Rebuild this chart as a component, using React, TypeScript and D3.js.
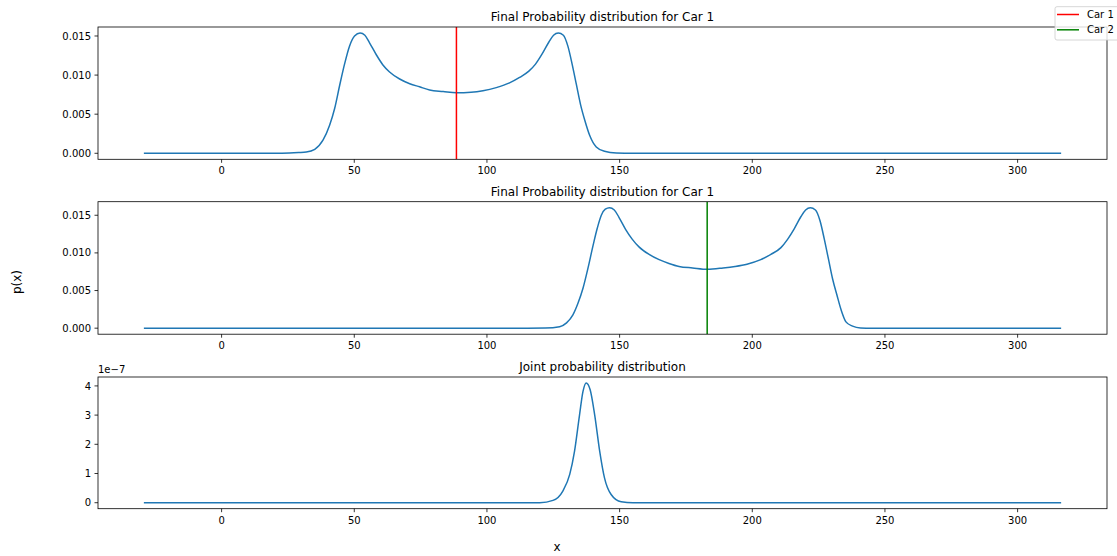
import React from "react";
import * as d3 from "d3";

// ---- data ----
const car1X = [-29.3, 20, 25.6, 29, 31.9, 35.1, 38.2, 40.7, 42.6, 44.5, 46.4, 48.2, 50.1, 52.2, 54.0, 55.8, 58.3, 60.8, 63.3, 67.1, 70.9, 74.6, 78.4, 83.5, 88.5, 94, 98.5, 103.5, 108.5, 112.3, 115.8, 118.3, 120.8, 123.3, 125.1, 126.9, 128.8, 130.5, 132.1, 133.7, 135.3, 136.9, 138.7, 141.2, 144.3, 148.8, 155, 316.4];
const car1Y = [0, 0, 0.00004, 0.0001, 0.00017, 0.00051, 0.00167, 0.00359, 0.00573, 0.0087, 0.0115, 0.0137, 0.015, 0.01538, 0.0151, 0.0141, 0.0126, 0.0113, 0.0104, 0.0095, 0.0089, 0.0085, 0.0081, 0.0079, 0.00773, 0.0078, 0.008, 0.0084, 0.009, 0.0097, 0.0105, 0.0114, 0.0127, 0.0142, 0.0151, 0.01538, 0.0151, 0.0137, 0.0114, 0.0088, 0.0062, 0.0042, 0.00231, 0.00081, 0.00026, 0.00003, 0, 0];

const car2X = [-29.3, 115, 122, 127.4, 130, 132.4, 134.3, 136.2, 138.1, 140.0, 141.6, 143.1, 144.6, 146.2, 148.0, 149.8, 152.3, 154.8, 157.3, 161.1, 164.9, 168.6, 172.4, 177.5, 183.1, 189, 193.5, 198, 203.2, 207, 210.8, 213.3, 215.8, 218.3, 220.1, 221.9, 223.8, 225.5, 227.1, 228.7, 230.3, 231.9, 233.5, 235.3, 237.8, 240.8, 245, 252, 316.4];
const car2Y = [0, 0, 0.00002, 0.0002, 0.0007, 0.00176, 0.0033, 0.0053, 0.008, 0.011, 0.0133, 0.015, 0.0158, 0.016, 0.0157, 0.0147, 0.0131, 0.0118, 0.0108, 0.0098, 0.0091, 0.0086, 0.0082, 0.008, 0.00782, 0.008, 0.0082, 0.0085, 0.0091, 0.0098, 0.0107, 0.0118, 0.0132, 0.0148, 0.0157, 0.016, 0.0157, 0.0143, 0.0119, 0.0092, 0.0065, 0.0044, 0.0024, 0.00084, 0.00027, 0.00003, 0, 0, 0];

const jointX = [-29.3, 115, 119.9, 124.9, 128.6, 131.2, 133.0, 134.9, 136.2, 137.4, 138.9, 140.6, 142.5, 144.3, 146.8, 150.6, 155, 316.4];
const jointY = [0, 0, 0.002e-7, 0.08e-7, 0.4e-7, 0.97e-7, 1.76e-7, 3.01e-7, 3.81e-7, 4.1e-7, 3.87e-7, 3.01e-7, 1.76e-7, 0.85e-7, 0.28e-7, 0.03e-7, 0, 0];

const car1Pos = 88.5;
const car2Pos = 183.0;

const xTicks = [0, 50, 100, 150, 200, 250, 300];
const probTicks = [0, 0.005, 0.01, 0.015];
const jointTicks = [0, 1e-7, 2e-7, 3e-7, 4e-7];

const titles = ["Final Probability distribution for Car 1", "Final Probability distribution for Car 1", "Joint probability distribution"];
const legendLabels = ["Car 1", "Car 2"];

const W = 1117;
const H = 556;
const FONT = "DejaVu Sans, sans-serif";
const BLUE = "#1f77b4";

type Panel = {
  xs: number[];
  ys: number[];
  top: number;
  bottom: number;
  yTicks: number[];
  fmt: (v: number) => string;
  vline?: { x: number; color: string };
  title: string;
  offset?: string;
};

const left = 98;
const right = 1107;

const panels: Panel[] = [
  { xs: car1X, ys: car1Y, top: 27, bottom: 159.3, yTicks: probTicks, fmt: (v) => v.toFixed(3), vline: { x: car1Pos, color: "#ff0000" }, title: titles[0] },
  { xs: car2X, ys: car2Y, top: 201.7, bottom: 334.2, yTicks: probTicks, fmt: (v) => v.toFixed(3), vline: { x: car2Pos, color: "#008000" }, title: titles[1] },
  { xs: jointX, ys: jointY, top: 377, bottom: 508.7, yTicks: jointTicks, fmt: (v) => String(Math.round(v / 1e-7)), title: titles[2], offset: "1e\u22127" },
];

function PanelView({ p }: { p: Panel }) {
  const xmin = d3.min(p.xs)!;
  const xmax = d3.max(p.xs)!;
  const xr = xmax - xmin;
  const x = d3.scaleLinear().domain([xmin - 0.05 * xr, xmax + 0.05 * xr]).range([left, right]);
  const ymin = d3.min(p.ys)!;
  const ymax = d3.max(p.ys)!;
  const yr = ymax - ymin;
  const y = d3.scaleLinear().domain([ymin - 0.05 * yr, ymax + 0.05 * yr]).range([p.bottom, p.top]);
  const pts: [number, number][] = p.xs.map((v, i) => [v, p.ys[i]]);
  const line = d3
    .line<[number, number]>()
    .x((d) => x(d[0]))
    .y((d) => y(d[1]))
    .curve(d3.curveMonotoneX);
  const clipId = "clip" + Math.round(p.top);
  return (
    <g>
      <defs>
        <clipPath id={clipId}>
          <rect x={left} y={p.top} width={right - left} height={p.bottom - p.top} />
        </clipPath>
      </defs>
      <g clipPath={`url(#${clipId})`}>
        <path d={line(pts) || ""} fill="none" stroke={BLUE} strokeWidth={1.5} strokeLinejoin="round" />
        {p.vline && (
          <line x1={x(p.vline.x)} x2={x(p.vline.x)} y1={p.top} y2={p.bottom} stroke={p.vline.color} strokeWidth={1.5} />
        )}
      </g>
      <rect x={left} y={p.top} width={right - left} height={p.bottom - p.top} fill="none" stroke="#000" strokeWidth={0.8} />
      {xTicks.map((t) => (
        <g key={"x" + t}>
          <line x1={x(t)} x2={x(t)} y1={p.bottom} y2={p.bottom + 3.5} stroke="#000" strokeWidth={0.8} />
          <text x={x(t)} y={p.bottom + 15} textAnchor="middle" fontSize={10} fontFamily={FONT} fill="#000">
            {t}
          </text>
        </g>
      ))}
      {p.yTicks.map((t) => (
        <g key={"y" + t}>
          <line x1={left - 3.5} x2={left} y1={y(t)} y2={y(t)} stroke="#000" strokeWidth={0.8} />
          <text x={left - 7} y={y(t) + 3.6} textAnchor="end" fontSize={10} fontFamily={FONT} fill="#000">
            {p.fmt(t)}
          </text>
        </g>
      ))}
      <text x={(left + right) / 2} y={p.top - 6} textAnchor="middle" fontSize={12} fontFamily={FONT} fill="#000">
        {p.title}
      </text>
      {p.offset && (
        <text x={left} y={p.top - 4} textAnchor="start" fontSize={10} fontFamily={FONT} fill="#000">
          {p.offset}
        </text>
      )}
    </g>
  );
}

export default function App() {
  const legendColors = ["#ff0000", "#008000"];
  return (
    <svg width={W} height={H} style={{ display: "block", position: "absolute", left: 0, top: 0 }}>
      <rect x={0} y={0} width={W} height={H} fill="#fff" />
      {panels.map((p, i) => (
        <PanelView key={i} p={p} />
      ))}
      <text transform={`translate(21,282) rotate(-90)`} textAnchor="middle" fontSize={12} fontFamily={FONT} fill="#000">
        p(x)
      </text>
      <text x={557} y={551} textAnchor="middle" fontSize={12} fontFamily={FONT} fill="#000">
        x
      </text>
      <g>
        <rect x={1055} y={6.7} width={70} height={33.3} rx={2} fill="#fff" fillOpacity={0.8} stroke="#cccccc" strokeWidth={0.8} />
        {legendLabels.map((l, i) => (
          <g key={l}>
            <line x1={1057} x2={1079} y1={14.5 + i * 15.3} y2={14.5 + i * 15.3} stroke={legendColors[i]} strokeWidth={1.5} />
            <text x={1087} y={18 + i * 15.3} fontSize={10} fontFamily={FONT} fill="#000">
              {l}
            </text>
          </g>
        ))}
      </g>
    </svg>
  );
}
